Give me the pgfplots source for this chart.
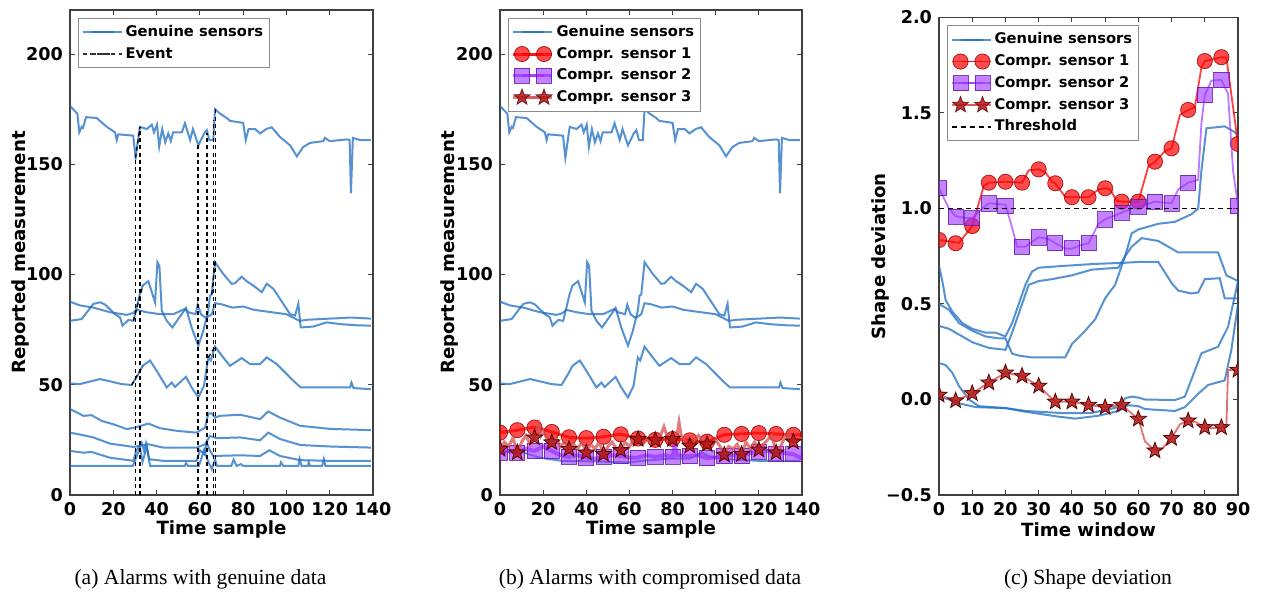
\documentclass[border=0pt]{standalone}
\usepackage{fontspec}
\setmainfont{DejaVu Sans}
\newfontfamily\capfont{Liberation Serif}
\usepackage{pgfplots}
\pgfplotsset{compat=1.18}

\definecolor{gen}{RGB}{30,110,195}
\definecolor{cs1}{RGB}{255,0,0}
\definecolor{cs1e}{RGB}{150,0,0}
\definecolor{cs2}{RGB}{155,48,255}
\definecolor{cs2e}{RGB}{100,20,170}
\definecolor{cs3}{RGB}{178,20,20}
\definecolor{cs3e}{RGB}{90,0,0}
\definecolor{cs3l}{RGB}{215,80,80}

% filled five-point star
\pgfdeclareplotmark{fstar}{%
  \pgfpathmoveto{\pgfpointpolar{90}{\pgfplotmarksize}}%
  \pgfpathlineto{\pgfpointpolar{126}{0.42*\pgfplotmarksize}}%
  \pgfpathlineto{\pgfpointpolar{162}{\pgfplotmarksize}}%
  \pgfpathlineto{\pgfpointpolar{198}{0.42*\pgfplotmarksize}}%
  \pgfpathlineto{\pgfpointpolar{234}{\pgfplotmarksize}}%
  \pgfpathlineto{\pgfpointpolar{270}{0.42*\pgfplotmarksize}}%
  \pgfpathlineto{\pgfpointpolar{306}{\pgfplotmarksize}}%
  \pgfpathlineto{\pgfpointpolar{342}{0.42*\pgfplotmarksize}}%
  \pgfpathlineto{\pgfpointpolar{18}{\pgfplotmarksize}}%
  \pgfpathlineto{\pgfpointpolar{54}{0.42*\pgfplotmarksize}}%
  \pgfpathclose
  \pgfusepathqfillstroke}

\pgfplotsset{
  mpl/.style={
    scale only axis,
    axis line style={draw=black!75, line width=0.6pt},
    tick align=inside,
    major tick length=2.5pt,
    every tick/.style={black!75, line width=0.5pt},
    /pgf/number format/assume math mode=true,
    tick label style={font=\fontsize{8.8}{10}\selectfont\bfseries},
    label style={font=\fontsize{9.1}{11}\selectfont\bfseries},
    legend style={font=\fontsize{7.35}{8.8}\selectfont\bfseries, draw=black!45,
      line width=0.5pt, at={(0,1)}, anchor=north west, xshift=4pt, yshift=-4pt,
      inner sep=1.5pt, row sep=0pt,
      nodes={inner sep=1.5pt, text height=6pt, text depth=1.85pt}},
    legend cell align=left,
    legend image code/.code={\path (-4.5pt,0pt) -- (15pt,0pt);
      \draw[mark repeat=2, mark phase=1, ##1]
      plot coordinates {(0pt,0pt) (5.5pt,0pt) (11pt,0pt)};},
    clip marker paths=true,
    unbounded coords=jump,
  },
  gen/.style={draw=gen, draw opacity=0.75, line width=1pt},
  event/.style={draw=black, line width=0.65pt, dash pattern=on 2pt off 1.6pt},
  cs1m/.style={mark=*, mark size=3.8pt, mark options={solid, fill=cs1, fill opacity=0.7, draw=cs1e, draw opacity=0.8, line width=0.4pt}},
  cs2m/.style={mark=square*, mark size=3.8pt, mark options={solid, fill=cs2, fill opacity=0.6, draw=cs2e, draw opacity=0.8, line width=0.4pt}},
  cs3m/.style={mark=fstar, mark size=4.2pt, mark options={solid, fill=cs3, fill opacity=0.85, draw=cs3e, line width=0.4pt}},
}

% genuine sensor traces, shared by panels (a) and (b)
\pgfplotstableread{
x y
0 176.4
3.4 173
4.3 164.5
5.4 167
6 166.5
7.4 171.4
12.3 171
17 167
20.8 164.5
21.6 161
22.3 163.6
29.2 163
30.3 153
32.3 167
35.5 166
37.8 168
38.8 164.5
40.2 168
41.2 158
42.6 166
44 160
45.4 164
46.6 160.5
47.6 164.5
51.7 164.5
53.1 168.6
54.6 164
55.5 161
56.8 166
59.3 158.6
60.8 161.6
62 164
63.2 165.5
64.4 161
66.2 161
67 175
69.3 173
72.4 171
73.9 169.7
80 168.8
81.2 161
82.5 166
85.6 166
87.8 164
90.7 166
93.2 166.8
97 162.4
101.7 158.6
104.8 153.6
107.7 157.8
110.9 159.7
117 160.5
117.8 162
120 160.5
127.9 161.3
129.2 161
129.8 136.8
130.7 162
134 161
139 161
}\sA
\pgfplotstableread{
x y
0 87.7
4.6 86
10.8 85
18.5 82.9
26.2 81.7
29 82.5
30.8 84
35.4 82.9
41.6 82
47.7 82
53.1 84.4
54.7 82.9
58 82
59 86.4
60.5 82
62.5 80.5
64 81
65.5 82
67 87
70 86.5
75 85
80 85.5
85 84
92.4 83
100 82
106 79
110 79.5
120 80
130 80.5
139 80
}\sB
\pgfplotstableread{
x y
0 79
5.4 79.8
10.8 86.7
13.9 87.4
16.2 86.4
20.8 82
23.1 80.6
24.3 76.8
27 79.4
29.3 79
32.3 91.2
33.6 95
36.2 97
39.3 87.4
40.4 105.6
41.3 104
42.4 83.6
44.7 79
47.3 76
50 79.8
53.6 84.8
56.2 76
59.3 67.7
61.6 74.5
63.9 83.6
64.7 90.5
65.5 91
67 105.6
70.8 100.3
74.7 95.8
76.2 96
79.3 99
81.6 97
84.7 95
88.6 92
90.9 95.8
94 93.5
101.7 82
104 81.4
105.5 86.7
106.6 76
112.4 76.4
118.6 78.3
125 77.5
132 77
139 76.8
}\sC
\pgfplotstableread{
x y
0 50.6
4.6 50.3
13.9 52.6
23.9 50.3
28.5 49.9
31.6 54.9
33.6 58.6
37 61
40 56.4
44.7 48.8
47 51
48.5 49
53.6 53.6
56.2 48.8
59.3 44.2
61.9 49.5
63.9 62.4
65 61
67 67.3
70.8 62.4
73.9 58.6
79.3 62.1
83.2 59.4
87.8 59.4
90.9 62.4
95.5 59.4
103.2 51.8
106.6 48.8
118.6 48.8
129.4 48.8
130 51
131 48.5
139 48
}\sD

\begin{document}
\begin{tikzpicture}
\path[use as bounding box] (0,0) rectangle (630.5pt,298.5pt);

% ---------------- (a) ----------------
\begin{axis}[mpl, at={(35pt,51pt)}, width=151.5pt, height=242.5pt,
  xmin=0, xmax=140, ymin=0, ymax=220,
  xtick={0,20,...,140}, ytick={0,50,...,200},
  xlabel={Time sample}, ylabel={Reported measurement},
  xlabel style={at={(axis description cs:0.5,-0.071)}, anchor=center},
  ylabel style={at={(axis description cs:-0.165,0.5)}, anchor=center}]
\addplot[gen, forget plot] table {\sA};
\addplot[gen, forget plot] table {\sB};
\addplot[gen, forget plot] table {\sC};
\addplot[gen, forget plot] table {\sD};
\addplot[gen, forget plot] coordinates {(0,39)(6.2,35.9)(10,36.2)(14.6,33.6)(20,32.1)(26.2,29.9)(30,30.6)(36.2,32.4)(41.6,30.3)(49.3,29.1)(58.5,28.3)(62.4,30.6)(63.9,37)(65.5,37)(67,35.1)(69.3,35.9)(78.6,36.4)(87.8,34.4)(91.6,37.9)(97,35.1)(106.3,31.4)(120,30)(139,29.4)};
\addplot[gen, forget plot] coordinates {(0,28.3)(6.2,27.1)(10.8,26.1)(18.5,23.3)(29.3,21.8)(36.2,23)(43.1,21.5)(58.5,21.5)(62.4,23)(64.7,26.8)(67.8,25.8)(78.6,26.1)(87.8,24.8)(91.6,28.3)(97,25.4)(106.3,22.7)(120,22)(139,21.5)};
\addplot[gen, forget plot] coordinates {(0,20)(6.2,19.2)(10,19.5)(18.5,16.9)(29.3,15.5)(30.5,20)(33.1,23.8)(34.2,20)(35.1,23.5)(36.6,16.2)(43.1,15.5)(58.5,15.5)(60.1,20.3)(62,18.5)(63.2,23.8)(64.7,20)(66.2,17.7)(78.6,18)(87.8,17.7)(92.1,20.3)(97,17.7)(106.3,15.8)(120,15.5)(139,15.5)};
\addplot[gen, forget plot] coordinates {(0,13.2)(29,13.2)(30,15.5)(32.3,21.5)(33.5,15)(35.5,22)(37,13.2)(53,13.2)(53.6,14.5)(54.5,13.2)(59.5,13.2)(60.5,16)(62,20.6)(63.5,16)(65.5,11.7)(67,16)(68,13.2)(74.5,13.2)(75.6,16)(77,13.2)(79,14)(80,13.2)(97,13.2)(97.5,14.8)(98.5,13.2)(105.5,13.2)(106.1,16.3)(107,13.2)(110,13.2)(110.3,14.8)(111,13.2)(116.5,13.2)(117.3,16.3)(118,13.2)(139,13.2)};
% events
\addplot[event, forget plot] coordinates {(30.3,0)(30.3,153)(30.3,nan)(32.3,0)(32.3,167)(32.3,nan)(59.2,0)(59.2,158.6)(59.2,nan)(63.3,0)(63.3,164)(63.3,nan)(66.4,0)(66.4,170)(66.4,nan)(67.3,0)(67.3,175)};
\addplot[event, forget plot] coordinates {(30.3,153)(32.3,167)(32.3,nan)(29.3,79)(33.6,95)(33.6,nan)(28.5,49.9)(33.6,58.6)(33.6,nan)(65.5,91)(67,105.6)(67,nan)(63.9,62.4)(67,67.3)};
\addlegendimage{gen}
\addlegendentry{Genuine sensors}
\addlegendimage{event, draw=black!80}
\addlegendentry{Event}
\end{axis}

% ---------------- (b) ----------------
\begin{axis}[mpl, at={(250pt,51pt)}, width=151pt, height=242.5pt,
  xmin=0, xmax=140, ymin=0, ymax=220,
  xtick={0,20,...,140}, ytick={0,50,...,200},
  xlabel={Time sample}, ylabel={Reported measurement},
  xlabel style={at={(axis description cs:0.5,-0.071)}, anchor=center},
  ylabel style={at={(axis description cs:-0.166,0.5)}, anchor=center}]
\addplot[gen, forget plot] table {\sA};
\addplot[gen, forget plot] table {\sB};
\addplot[gen, forget plot] table {\sC};
\addplot[gen, forget plot] table {\sD};
\addplot[gen, forget plot] coordinates {(0,20)(6.2,19.2)(10,19.5)(18.5,16.9)(28.6,15.5)(45,15.2)(59.6,14.7)(66,15.5)(78.6,16.5)(87.8,16.5)(93.6,19.2)(97,17.5)(106,16.2)(120,15.5)(139,15.5)};
% compromised sensor 1
\addplot[forget plot, draw=cs1, draw opacity=0.75, line width=1.5pt, smooth, tension=0.4] coordinates {(0,28.3)(8,29.4)(16,30.6)(24,28.6)(32,26.2)(40,25.8)(48,26.4)(56,27.5)(64,25.6)(72,25)(80,25.4)(88,24.8)(96,24.2)(104,27.3)(112,27.7)(120,28.1)(128,27.7)(136,27.3)(140,27.3)};
\addplot[forget plot, only marks, cs1m] coordinates {(0,28.3)(8,29.4)(16,30.6)(24,28.6)(32,26.2)(40,25.8)(48,26.4)(56,27.5)(64,25.6)(72,25)(80,25.4)(88,24.8)(96,24.2)(104,27.3)(112,27.7)(120,28.1)(128,27.7)(136,27.3)};
% compromised sensor 2
\addplot[forget plot, draw=cs2, draw opacity=0.7, line width=2pt] coordinates {(0,19.2)(4,20)(8,19.2)(12,21)(16,20)(20,22)(24,20)(28,18)(32,17.3)(36,18)(40,17)(44,16.5)(48,17.3)(52,18)(56,17.7)(60,17)(64,17)(68,18)(72,17.3)(76,18)(80,17.3)(81,23)(82,18)(88,17.7)(92,18)(96,16.7)(100,17)(104,17.7)(108,18)(112,17.7)(116,19)(120,19.7)(124,20)(128,18.8)(132,19)(136,18.5)(140,16.5)};
\addplot[forget plot, only marks, cs2m] coordinates {(0,19.2)(8,19.2)(16,20)(24,20)(32,17.3)(40,17)(48,17.3)(56,17.7)(64,17)(72,17.3)(80,17.3)(88,17.7)(96,16.7)(104,17.7)(112,17.7)(120,19.7)(128,18.8)(136,18.5)};
% compromised sensor 3
\addplot[forget plot, draw=cs3l, draw opacity=0.75, line width=1.5pt] coordinates {(0,21)(2,24)(4,22)(6,26)(8,19.2)(10,24)(12,27)(14,23)(16,26)(18,32)(19,27)(20,29)(22,25)(24,23.8)(26,26)(28,22)(30,24)(32,20.8)(34,23)(36,21)(38,24)(40,19.2)(42,23)(44,21)(46,24)(48,18.5)(50,22)(52,24)(54,21)(56,20.3)(58,24)(60,22)(62,25)(64,25.3)(66,23)(68,25)(70,24)(72,24.9)(74,26)(76,31)(78,25)(80,25.3)(82,27)(83,33)(84,27)(86,24)(88,22.3)(90,25)(92,27)(94,24)(96,23)(98,22)(100,25)(102,22)(104,18.2)(106,22)(108,21)(110,23)(112,18.5)(114,24)(116,21)(118,24)(120,20.5)(122,23)(124,25)(126,27)(128,19.2)(130,22)(132,26)(134,28)(136,24.1)(138,25)(140,26)};
\addplot[forget plot, only marks, cs3m] coordinates {(0,20.8)(8,19.2)(16,26)(24,23.8)(32,20.8)(40,19.2)(48,18.5)(56,20.3)(64,25.3)(72,24.9)(80,25.3)(88,22.3)(96,23)(104,18.2)(112,18.5)(120,20.5)(128,19.2)(136,24.1)};
\addlegendimage{gen}
\addlegendentry{Genuine sensors}
\addlegendimage{draw=cs1, draw opacity=0.75, line width=1.5pt, cs1m}
\addlegendentry{Compr. sensor 1}
\addlegendimage{draw=cs2, draw opacity=0.7, line width=1.5pt, cs2m}
\addlegendentry{Compr. sensor 2}
\addlegendimage{draw=cs3l, draw opacity=0.75, line width=1.5pt, cs3m}
\addlegendentry{Compr. sensor 3}
\end{axis}

% ---------------- (c) ----------------
\begin{axis}[mpl, at={(469.5pt,51pt)}, width=149.5pt, height=238.75pt,
  xmin=0, xmax=90, ymin=-0.5, ymax=2.0,
  xtick={0,10,...,90}, ytick={-0.5,0,0.5,1,1.5,2},
  yticklabels={−0.5,0.0,0.5,1.0,1.5,2.0},
  xlabel={Time window}, ylabel={Shape deviation},
  xlabel style={at={(axis description cs:0.5,-0.072)}, anchor=center},
  ylabel style={at={(axis description cs:-0.197,0.5)}, anchor=center}]
\addplot[gen, forget plot] coordinates {(0,0.70)(1,0.62)(2,0.52)(4,0.46)(7,0.40)(10,0.37)(14,0.35)(17,0.35)(20,0.33)(22,0.40)(24,0.50)(26,0.60)(28,0.67)(30,0.69)(38,0.70)(47,0.71)(55,0.715)(60,0.72)(66,0.72)(70,0.61)(72,0.57)(76,0.555)(78,0.56)(80,0.63)(84.5,0.635)(86,0.53)(90,0.53)};
\addplot[gen, forget plot] coordinates {(0,0.50)(3,0.47)(6,0.40)(10,0.36)(14,0.33)(18,0.32)(20,0.32)(22,0.24)(24,0.23)(28,0.22)(38,0.22)(40,0.29)(44,0.36)(47,0.42)(50,0.53)(53,0.60)(56,0.75)(58,0.87)(60,0.89)(66,0.92)(71,0.93)(76,0.97)(78,1.00)(79,1.2)(80.5,1.42)(86,1.43)(89,1.40)(90,1.38)};
\addplot[gen, forget plot] coordinates {(0,0.385)(3,0.37)(7,0.33)(10,0.30)(15,0.27)(20,0.26)(22,0.35)(24,0.45)(27,0.60)(30,0.62)(34,0.63)(40,0.65)(46,0.68)(54,0.69)(56,0.75)(58,0.80)(61,0.845)(66,0.83)(72,0.77)(84,0.77)(86.5,0.65)(90,0.62)};
\addplot[gen, forget plot] coordinates {(0,0.19)(2,0.18)(4,0.14)(6,0.07)(9,0.0)(12,-0.035)(20,-0.045)(26,-0.064)(36,-0.09)(41,-0.10)(48,-0.085)(54,-0.06)(57,-0.03)(60,-0.035)(62,-0.05)(71,-0.06)(74,-0.04)(78,0.03)(81,0.076)(86,0.10)(88,0.26)(90,0.50)};
\addplot[gen, forget plot] coordinates {(0,0.015)(3,0.0)(6,-0.02)(11,-0.04)(20,-0.045)(26,-0.06)(38,-0.072)(46,-0.07)(54,-0.04)(56,0.006)(58,0.015)(60,0.01)(62,0.0)(71,-0.003)(74,0.015)(79,0.242)(84,0.276)(87,0.38)(90,0.62)};
% compromised sensor 1
\addplot[forget plot, draw=cs1, draw opacity=0.75, line width=0.9pt] coordinates {(0,0.835)(6,0.82)(10,0.908)(13.5,1.12)(15,1.135)(20,1.14)(25,1.135)(27,1.2)(30,1.205)(32,1.19)(34,1.14)(35,1.132)(38,1.06)(40,1.059)(45,1.059)(48,1.1)(50,1.106)(51.5,1.1)(53.5,1.04)(55,1.036)(60,1.036)(63,1.22)(65,1.245)(68,1.30)(70,1.315)(72.5,1.49)(75,1.516)(77,1.53)(79,1.74)(80,1.772)(85,1.792)(86.5,1.79)(90,1.338)};
\addplot[forget plot, only marks, cs1m] coordinates {(0,0.835)(5,0.818)(10,0.908)(15,1.135)(20,1.14)(25,1.135)(30,1.205)(35,1.132)(40,1.059)(45,1.059)(50,1.106)(55,1.036)(60,1.036)(65,1.245)(70,1.315)(75,1.516)(80,1.772)(85,1.792)(90,1.338)};
% compromised sensor 2
\addplot[forget plot, draw=cs2, draw opacity=0.65, line width=0.9pt] coordinates {(0,1.106)(3,1.0)(5,0.96)(8,0.95)(10,0.95)(13,1.0)(15,1.027)(20,1.02)(22,0.9)(23.5,0.8)(26,0.80)(30,0.85)(33,0.84)(35,0.818)(38,0.79)(40,0.79)(43,0.81)(45,0.818)(48,0.92)(50,0.943)(55,0.978)(58,1.0)(60,1.009)(65,1.036)(70,1.027)(72,1.1)(75,1.135)(78,1.15)(79,1.45)(80,1.594)(82,1.67)(85,1.673)(87,1.6)(88.5,1.2)(90,1.013)};
\addplot[forget plot, only marks, cs2m] coordinates {(0,1.106)(5,0.957)(10,0.949)(15,1.027)(20,1.013)(25,0.800)(30,0.849)(35,0.818)(40,0.792)(45,0.818)(50,0.943)(55,0.978)(60,1.009)(65,1.036)(70,1.027)(75,1.135)(80,1.594)(85,1.673)(90,1.013)};
% compromised sensor 3
\addplot[forget plot, draw=cs3l, draw opacity=0.8, line width=0.9pt] coordinates {(0,0.024)(5,-0.006)(10,0.032)(15,0.088)(20,0.140)(25,0.123)(30,0.071)(35,-0.012)(40,-0.012)(45,-0.029)(50,-0.041)(55,-0.029)(60,-0.102)(62,-0.22)(65,-0.268)(67,-0.26)(70,-0.203)(72.5,-0.13)(75,-0.111)(77.5,-0.12)(80,-0.146)(82.5,-0.15)(85,-0.146)(86.5,-0.14)(87,0.154)(90,0.154)};
\addplot[forget plot, only marks, cs3m] coordinates {(0,0.024)(5,-0.006)(10,0.032)(15,0.088)(20,0.140)(25,0.123)(30,0.071)(35,-0.012)(40,-0.012)(45,-0.029)(50,-0.041)(55,-0.029)(60,-0.102)(65,-0.268)(70,-0.203)(75,-0.111)(80,-0.146)(85,-0.146)(90,0.154)};
% threshold
\addplot[forget plot, draw=black, line width=0.9pt, dash pattern=on 2.5pt off 2pt] coordinates {(0,1)(90,1)};
\addlegendimage{gen}
\addlegendentry{Genuine sensors}
\addlegendimage{draw=cs1, draw opacity=0.75, line width=0.9pt, cs1m}
\addlegendentry{Compr. sensor 1}
\addlegendimage{draw=cs2, draw opacity=0.65, line width=0.9pt, cs2m}
\addlegendentry{Compr. sensor 2}
\addlegendimage{draw=cs3l, draw opacity=0.8, line width=0.9pt, cs3m}
\addlegendentry{Compr. sensor 3}
\addlegendimage{draw=black, line width=0.9pt, dash pattern=on 2.5pt off 2pt}
\addlegendentry{Threshold}
\end{axis}

\node[font=\capfont\fontsize{10.8}{12}\selectfont] at (100.25pt,9pt) {(a) Alarms with genuine data};
\node[font=\capfont\fontsize{10.8}{12}\selectfont] at (325pt,9pt) {(b) Alarms with compromised data};
\node[font=\capfont\fontsize{10.8}{12}\selectfont] at (544pt,9pt) {(c) Shape deviation};
\end{tikzpicture}
\end{document}
